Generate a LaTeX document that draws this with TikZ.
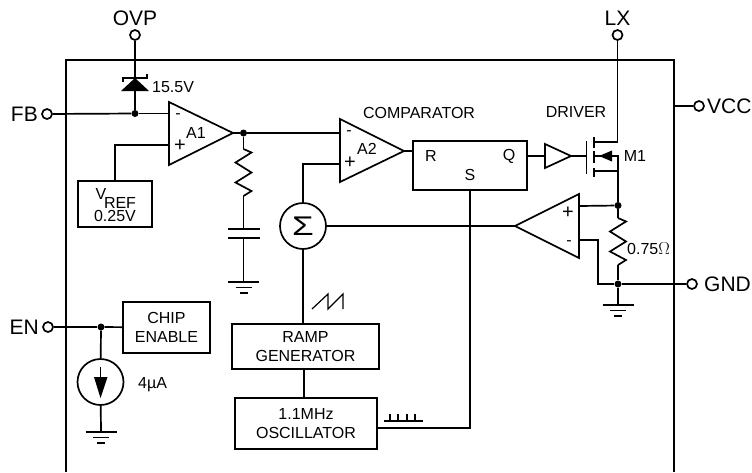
\documentclass[tikz,border=0pt]{standalone}
\usepackage{fontspec}
\setmainfont{Liberation Sans}
\tikzset{
  wire/.style={line width=1.7pt},
  pin/.style={circle,draw,line width=1.7pt,fill=white,minimum size=10pt,inner sep=0pt},
  dot/.style={circle,fill=black,minimum size=7pt,inner sep=0pt},
  blockbox/.style={draw,line width=1.7pt,align=center,inner sep=0pt},
  small/.style={font=\fontsize{16}{18.5}\selectfont,inner sep=0pt},
  pinlabel/.style={font=\fontsize{21}{24}\selectfont,inner sep=0pt},
  earth/.pic={\draw[wire] (-15.5,0) -- (15.5,0) (-8,5.5) -- (8,5.5) (-4,11) -- (4,11);},
  zigzag/.pic={\draw[wire,line join=miter] (0,0) -- (8,3.5) -- (-8,13.5) -- (8,23.5) -- (-8,33.5) -- (8,42) -- (0,47);}
}
\begin{document}
\begin{tikzpicture}[x=1pt,y=-1pt]
  \useasboundingbox (0,0) rectangle (752,472);
  % chip outline
  \draw[wire] (66,472) -- (66,60) -- (674,60) -- (674,472);

  % pins
  \node[pin] (ovp) at (135,35) {};
  \node[pin] (lx) at (617.5,35) {};
  \node[pin] (fb) at (47,114) {};
  \node[pin] (vcc) at (699,106) {};
  \node[pin] (en) at (48,327) {};
  \node[pin] (gnd) at (692,284) {};
  \node[pinlabel] at (135,18) {OVP};
  \node[pinlabel] at (617.5,18) {LX};
  \node[pinlabel,anchor=east] at (38,114) {FB};
  \node[pinlabel,anchor=west] at (707,106) {VCC};
  \node[pinlabel,anchor=east] at (39,327) {EN};
  \node[pinlabel,anchor=west] at (704,284) {GND};
  \coordinate (vccin) at (674,106);

  % junctions
  \node[dot] (jfb) at (135,113.5) {};
  \node[dot] (ja1) at (243.5,133) {};
  \node[dot] (jsense) at (618,205.5) {};
  \node[dot] (jgnd) at (618,284) {};
  \node[dot] (jen) at (101,327) {};

  % blocks
  \node[blockbox,minimum width=74pt,minimum height=46pt] (vref) at (115,204) {};
  \node[small] at (101,194) {V};
  \node[small] at (120,203) {REF};
  \node[small] at (115,215.5) {0.25V};
  \node[blockbox,minimum width=114pt,minimum height=49pt] (latch) at (470,165.5) {};
  \node[small] at (431,156) {R};
  \node[small] at (470,175) {S};
  \node[small] at (509,156) {Q};
  \node[blockbox,small,minimum width=87pt,minimum height=51pt] (chipen) at (166.5,327.5) {CHIP\\ENABLE};
  \node[blockbox,small,minimum width=147pt,minimum height=45pt] (ramp) at (305.5,346.5) {RAMP\\GENERATOR};
  \node[blockbox,small,minimum width=142pt,minimum height=51pt] (osc) at (306,423.5) {1.1MHz\\OSCILLATOR};
  \node[circle,draw,line width=1.7pt,minimum size=46pt,inner sep=0pt,font=\fontsize{27}{27}\selectfont] (sigma) at (303,226) {\scalebox{1.3}[1]{Σ}};
  \node[circle,draw,line width=1.7pt,minimum size=46pt,inner sep=0pt] (isrc) at (100.5,382) {};

  % amplifiers
  \draw[wire,line join=miter] (169,102) -- (169,165) -- (233,133) -- cycle;
  \coordinate (a1minus) at (169,113.5);
  \coordinate (a1plus) at (169,145);
  \coordinate (a1out) at (233,133);
  \node at (178,116) {\fontsize{16}{16}\selectfont -};
  \node at (180,146) {\fontsize{20}{20}\selectfont +};
  \node[small] at (196,133) {A1};
  \draw[wire,line join=miter] (340,119) -- (340,182) -- (404,151) -- cycle;
  \coordinate (a2minus) at (340,133);
  \coordinate (a2plus) at (340,164);
  \coordinate (a2out) at (404,151);
  \node at (349,133) {\fontsize{16}{16}\selectfont -};
  \node at (350,163) {\fontsize{20}{20}\selectfont +};
  \node[small] at (367,149) {A2};
  \draw[wire,line join=miter] (579,194) -- (579,258) -- (515,226) -- cycle;
  \coordinate (a3plus) at (579,206);
  \coordinate (a3minus) at (579,240);
  \coordinate (a3out) at (515,226);
  \node at (568,212.5) {\fontsize{20}{20}\selectfont +};
  \node at (569,243) {\fontsize{16}{16}\selectfont -};
  \draw[wire,line join=miter] (545,144) -- (545,168) -- (571,156) -- cycle;
  \coordinate (bufin) at (545,156);
  \coordinate (bufout) at (571,156);

  % zener
  \coordinate (zener) at (135,78);
  \fill (121,91) -- (149,91) -- (zener) -- cycle;
  \draw[wire] (123,81.5) -- (123,78) -- (147,78) -- (147,74);

  % MOSFET
  \coordinate (gate) at (586.5,156);
  \coordinate (drain) at (617.5,142);
  \coordinate (source) at (618,171);
  \coordinate (body) at (618,156);
  \coordinate (bodyend) at (594,156);
  \draw[wire] (586.5,141) -- (586.5,173.5);
  \draw[wire] (594,137) -- (594,148) (594,151) -- (594,163) (594,168) -- (594,177);
  \draw[wire] (594,142) -- (drain) (594,171) -- (source) (source) -- (body) -- (bodyend);
  \fill (599,156) -- (612,150.5) -- (612,161.5) -- cycle;

  % passives
  \coordinate (r1top) at (243.5,149);
  \pic at (r1top) {zigzag};
  \coordinate (r1bot) at (243.5,196);
  \coordinate (captop) at (243.5,229);
  \coordinate (capbot) at (243.5,238);
  \draw[wire] (228,229) -- (260,229) (228,238) -- (260,238);
  \coordinate (g1) at (243.5,282);
  \pic at (g1) {earth};
  \coordinate (r2top) at (618,218);
  \pic at (r2top) {zigzag};
  \coordinate (r2bot) at (618,265);
  \coordinate (g2) at (618,305);
  \pic at (g2) {earth};
  \coordinate (g3) at (101,432);
  \pic at (g3) {earth};
  \draw[wire] (100.5,367) -- (100.5,380);
  \fill (94,377) -- (107.5,377) -- (100.5,398) -- cycle;

  % connections
  \draw[wire] (ovp) -- (jfb);
  \draw[wire] (lx) -- (drain);
  \draw[wire] (fb) -- (jfb);
  \draw[wire] (jfb) -- (a1minus);
  \draw[wire] (vccin) -- (vcc);
  \draw[wire] (a1plus) -| (vref.north);
  \draw[wire] (a1out) -- (ja1);
  \draw[wire] (ja1) -- (a2minus);
  \draw[wire] (ja1) -- (r1top);
  \draw[wire] (r1bot) -- (captop);
  \draw[wire] (capbot) -- (g1);
  \draw[wire] (a2plus) -| (sigma.north);
  \draw[wire] (a2out) -- (a2out -| latch.west);
  \draw[wire] (sigma) -- (a3out);
  \draw[wire] (sigma.south) -- (sigma |- ramp.north);
  \draw[wire] (ramp.south -| 304,0) -- (osc.north -| 304,0);
  \draw[wire] (latch.south) -- (latch.south |- osc) |- (osc.east |- 0,428);
  \draw[wire] (latch.east |- bufin) -- (bufin);
  \draw[wire] (bufout) -- (gate);
  \draw[wire] (source) -- (jsense);
  \draw[wire] (a3plus) -- (jsense);
  \draw[wire] (jsense) -- (r2top);
  \draw[wire] (r2bot) -- (jgnd);
  \draw[wire] (a3minus) -- (598,240) |- (jgnd);
  \draw[wire] (jgnd) -- (gnd);
  \draw[wire] (jgnd) -- (g2);
  \draw[wire] (en) -- (jen);
  \draw[wire] (jen) -- (chipen);
  \draw[wire] (jen) -- (isrc);
  \draw[wire] (isrc) -- (g3);

  % waveforms
  \draw[line width=1.2pt] (312,309) -- (328,294) -- (328,309) -- (343,294) -- (343,309);
  \draw[line width=1.2pt] (384,421) -- (423,421);
  \foreach \x in {390,398,407,415} \draw[line width=1.2pt] (\x,421) -- (\x,414);

  % labels
  \node[small,anchor=west] at (152,87) {15.5V};
  \node[small] at (419,113) {COMPARATOR};
  \node[small] at (576,112) {DRIVER};
  \node[small] at (635,156) {M1};
  \node[small,anchor=west] at (627,248.5) {0.75$\Omega$};
  \node[small,anchor=west] at (138,385) {4µA};
\end{tikzpicture}
\end{document}
